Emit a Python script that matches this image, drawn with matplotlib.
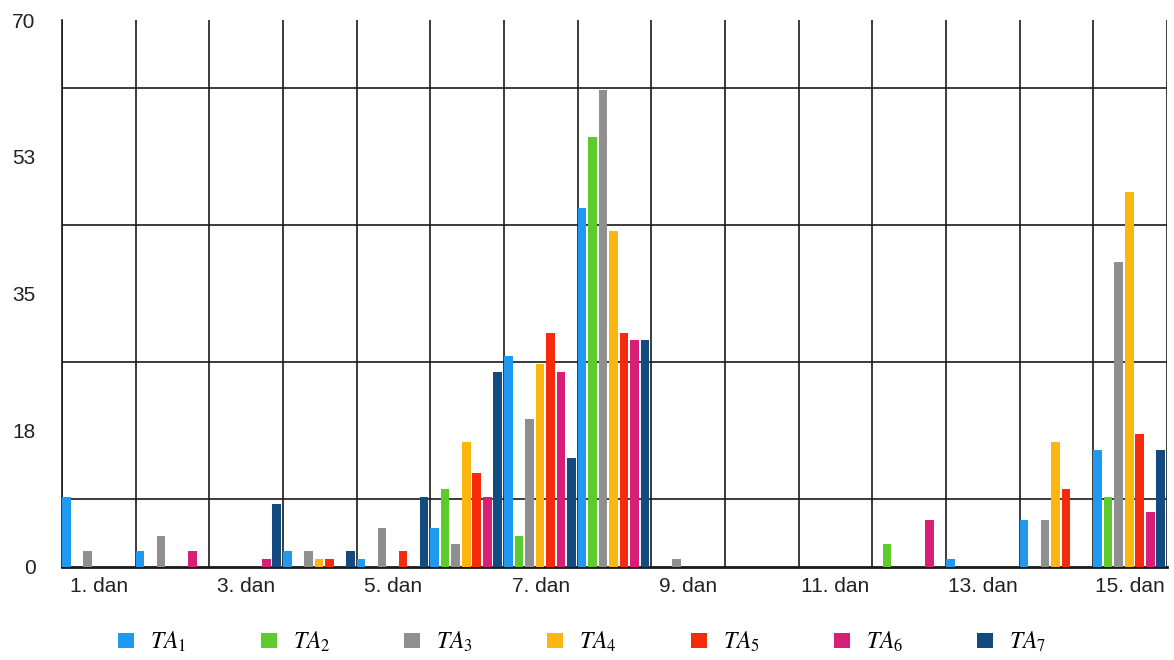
import matplotlib
matplotlib.use("Agg")
import matplotlib.pyplot as plt
import numpy as np
from matplotlib.ticker import FixedLocator

plt.rcParams['font.family'] = ['Liberation Sans', 'DejaVu Sans']
plt.rcParams['mathtext.fontset'] = 'stix'

days = [f"{i}. dan" for i in range(1, 16)]
series_names = [r"$TA_1$", r"$TA_2$", r"$TA_3$", r"$TA_4$", r"$TA_5$", r"$TA_6$", r"$TA_7$"]
colors = ["#1E9BF0", "#5DCB2E", "#8F8F8F", "#FBB60F", "#F62B0B", "#D91E78", "#134A80"]

TA1 = [9, 2, 0, 2, 1, 5, 27, 46, 0, 0, 0, 0, 1, 6, 15]
TA2 = [0, 0, 0, 0, 0, 10, 4, 55, 0, 0, 0, 3, 0, 0, 9]
TA3 = [2, 4, 0, 2, 5, 3, 19, 61, 1, 0, 0, 0, 0, 6, 39]
TA4 = [0, 0, 0, 1, 0, 16, 26, 43, 0, 0, 0, 0, 0, 16, 48]
TA5 = [0, 0, 0, 1, 2, 12, 30, 30, 0, 0, 0, 0, 0, 10, 17]
TA6 = [0, 2, 1, 0, 0, 9, 25, 29, 0, 0, 0, 6, 0, 0, 7]
TA7 = [0, 0, 8, 2, 9, 25, 14, 29, 0, 0, 0, 0, 0, 0, 15]
series = [TA1, TA2, TA3, TA4, TA5, TA6, TA7]

yticks_major = [0, 17.5, 35, 52.5, 70]
ytick_labels = ["0", "18", "35", "53", "70"]

fig = plt.figure(figsize=(11.74, 6.6), dpi=100)
ax = fig.add_axes([62/1174, 1-567/660, (1167-62)/1174, (567-20)/660])

n = len(series)
slot = 1.0 / n
bw = slot * 0.82
x = np.arange(len(days))
for j, (vals, c, name) in enumerate(zip(series, colors, series_names)):
    ax.bar(x + j * slot, vals, width=bw, align='edge', color=c, label=name, zorder=3)

ax.set_xlim(0, len(days))
ax.set_ylim(0, 70)

ax.xaxis.set_minor_locator(FixedLocator(np.arange(0, len(days) + 1)))
ax.xaxis.set_major_locator(FixedLocator(x[::2] + 0.5))
ax.set_xticklabels(days[::2])
ax.yaxis.set_major_locator(FixedLocator(yticks_major))
ax.set_yticklabels(ytick_labels)
ax.yaxis.set_minor_locator(FixedLocator(np.arange(0, 70.01, 8.75)))
ax.grid(which='minor', color='#1a1a1a', linewidth=1.2, zorder=0)
ax.grid(which='major', visible=False)
ax.set_axisbelow(True)

ax.tick_params(which='both', length=0)
ax.tick_params(axis='y', pad=19, labelsize=15, colors='#222222')
ax.tick_params(axis='x', pad=7, labelsize=15, colors='#222222')

for s in ['top', 'right']:
    ax.spines[s].set_visible(False)
ax.spines['left'].set_color('#1a1a1a')
ax.spines['left'].set_linewidth(1.2)
ax.spines['bottom'].set_color('#1a1a1a')
ax.spines['bottom'].set_linewidth(2.0)

fig.legend(loc='center', bbox_to_anchor=(0.496, 1-642/660), ncol=7, frameon=False,
           fontsize=17, handlelength=0.68, handleheight=0.64, handletextpad=0.68,
           columnspacing=3.14)

fig.savefig("out.png", dpi=100)
